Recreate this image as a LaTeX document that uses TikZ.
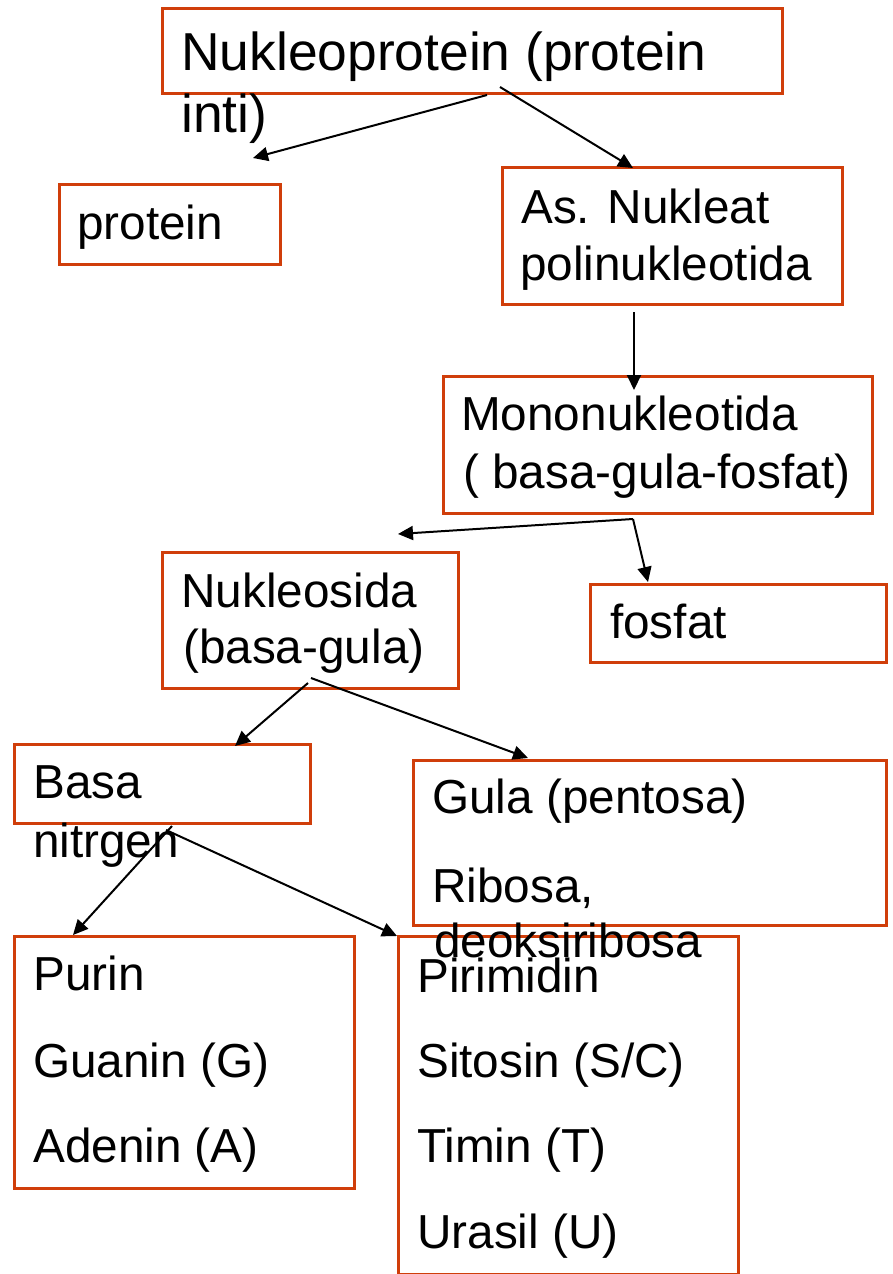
\documentclass[tikz,border=0pt]{standalone}
\usepackage{fontspec}
\setmainfont{Liberation Sans}
\usetikzlibrary{arrows.meta}
\definecolor{boxred}{RGB}{208,62,10}
\begin{document}
\begin{tikzpicture}[x=1pt,y=-1pt,
  boxstyle/.style={draw=boxred,line width=2.6pt,inner sep=0pt,anchor=north west},
  bigtxt/.style={anchor=base west,inner sep=0pt,font=\fontsize{53.4}{62}\selectfont},
  txt/.style={anchor=base west,inner sep=0pt,font=\fontsize{47.7}{56}\selectfont},
  arr/.style={draw=black,line width=2pt,-{Triangle[length=15pt,width=14pt]}}]
\useasboundingbox (0,0) rectangle (893,1274);
% boxes
\node[boxstyle,minimum width=620pt,minimum height=85pt] (bNP) at (161,7) {};
\node[boxstyle,minimum width=221pt,minimum height=80pt] (bPr) at (58,183) {};
\node[boxstyle,minimum width=340pt,minimum height=137pt] (bAN) at (501,166) {};
\node[boxstyle,minimum width=429pt,minimum height=137pt] (bMN) at (442,375) {};
\node[boxstyle,minimum width=296pt,minimum height=136pt] (bNS) at (161,551) {};
\node[boxstyle,minimum width=296pt,minimum height=78pt] (bFo) at (589,583) {};
\node[boxstyle,minimum width=296pt,minimum height=79pt] (bBN) at (13,743) {};
\node[boxstyle,minimum width=473pt,minimum height=165pt] (bGu) at (412,759) {};
\node[boxstyle,minimum width=340pt,minimum height=252pt] (bPu) at (13,935) {};
\node[boxstyle,minimum width=340pt,minimum height=338pt] (bPi) at (397,935) {};
% texts
\node[bigtxt] (tNP1) at (181,70) {Nukleoprotein (protein};
\node[bigtxt] (tNP2) at (181,132) {inti)};
\node[txt] (tPr) at (77,239) {protein};
\node[txt] (tAN1) at (521,223) {As. Nukleat};
\node[txt] (tAN2) at (520,280) {polinukleotida};
\node[txt] (tMN1) at (461,430) {Mononukleotida};
\node[txt] (tMN2) at (463,488) {( basa-gula-fosfat)};
\node[txt] (tNS1) at (181,607) {Nukleosida};
\node[txt] (tNS2) at (183,663) {(basa-gula)};
\node[txt] (tFo) at (610,638) {fosfat};
\node[txt] (tBN1) at (33,798) {Basa};
\node[txt] (tBN2) at (33,857) {nitrgen};
\node[txt] (tGu1) at (432,813) {Gula (pentosa)};
\node[txt] (tGu2) at (432,902) {Ribosa,};
\node[txt] (tGu3) at (434,957) {deoksiribosa};
\node[txt] (tPu1) at (33,990) {Purin};
\node[txt] (tPu2) at (33,1077) {Guanin (G)};
\node[txt] (tPu3) at (33,1162) {Adenin (A)};
\node[txt] (tPi1) at (417,992) {Pirimidin};
\node[txt] (tPi2) at (417,1077) {Sitosin (S/C)};
\node[txt] (tPi3) at (417,1162) {Timin (T)};
\node[txt] (tPi4) at (417,1248) {Urasil (U)};
% connector ends
\coordinate (s1) at (487,95);   \coordinate (e1) at (253,158);
\coordinate (s2) at (500,87);   \coordinate (e2) at (633,168);
\coordinate (s3) at (634,312);  \coordinate (e3) at (634,390);
\coordinate (s4) at (633,519);  \coordinate (e4a) at (398,534); \coordinate (e4b) at (648,582);
\coordinate (s5a) at (308,683); \coordinate (e5a) at (235,746);
\coordinate (s5b) at (311,678); \coordinate (e5b) at (528,758);
\coordinate (s6a) at (172,826); \coordinate (e6a) at (73,935);
\coordinate (s6b) at (166,830); \coordinate (e6b) at (397,936);
% connectors
\draw[arr] (s1) -- (e1);
\draw[arr] (s2) -- (e2);
\draw[arr] (s3) -- (e3);
\draw[arr] (s4) -- (e4a);
\draw[arr] (s4) -- (e4b);
\draw[arr] (s5a) -- (e5a);
\draw[arr] (s5b) -- (e5b);
\draw[arr] (s6a) -- (e6a);
\draw[arr] (s6b) -- (e6b);
\end{tikzpicture}
\end{document}
